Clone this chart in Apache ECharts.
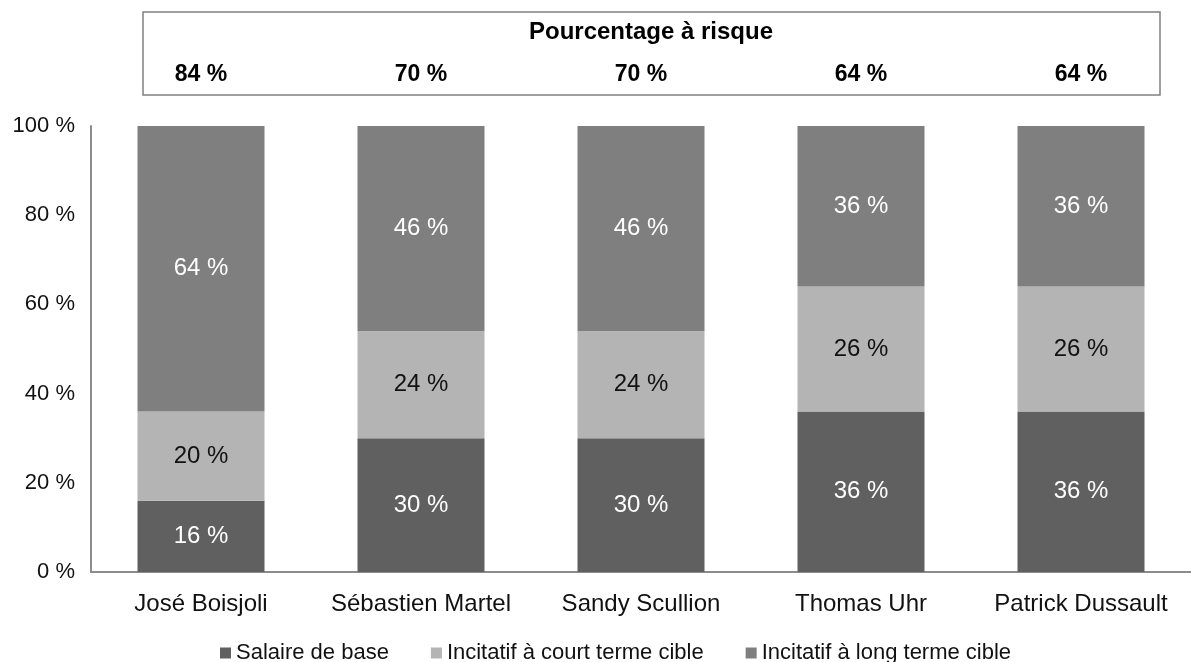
<!DOCTYPE html>
<html>
<head>
<meta charset="utf-8">
<script src="https://cdn.jsdelivr.net/npm/echarts@6/dist/echarts.min.js"></script>
<style>
  html, body { margin: 0; padding: 0; background: #fff; }
  #chart { width: 1191px; height: 662px; }
</style>
</head>
<body>
<div id="chart"></div>
<script>
  // données
  var names = ['José Boisjoli', 'Sébastien Martel', 'Sandy Scullion', 'Thomas Uhr', 'Patrick Dussault'];
  var riskPct = [84, 70, 70, 64, 64];            // Pourcentage à risque
  var baseSalary = [16, 30, 30, 36, 36];          // Salaire de base
  var shortTerm = [20, 24, 24, 28, 28];           // hauteur des barres (incitatif court terme)
  var shortTermPrinted = [20, 24, 24, 26, 26];    // valeurs affichées sur le graphique
  var longTerm = [64, 46, 46, 36, 36];            // Incitatif à long terme
  var yTicks = [0, 20, 40, 60, 80, 100];

  var FONT = 'Liberation Sans, Arial, sans-serif';
  var chart = echarts.init(document.getElementById('chart'));

  function segLabel(color, arr) {
    return {
      show: true,
      position: 'inside',
      color: color,
      fontFamily: FONT,
      fontSize: 24,
      formatter: function (p) {
        return (arr ? arr[p.dataIndex] : p.value) + ' %';
      }
    };
  }

  chart.setOption({
    animation: false,
    textStyle: { fontFamily: FONT },
    grid: { left: 91, right: -15, top: 126, bottom: 90, containLabel: false },
    legend: {
      left: 215,
      top: 637,
      icon: 'rect',
      itemWidth: 11,
      itemHeight: 11,
      itemGap: 42,
      textStyle: { fontSize: 22, color: '#111', fontFamily: FONT },
      data: ['Salaire de base', 'Incitatif à court terme cible', 'Incitatif à long terme cible']
    },
    xAxis: [
      {
        type: 'category',
        data: names,
        axisLine: { lineStyle: { color: '#8c8c8c', width: 2 } },
        axisTick: { show: false },
        axisLabel: { fontSize: 24, color: '#111', margin: 20, interval: 0, fontFamily: FONT }
      },
      {
        type: 'category',
        position: 'top',
        data: riskPct.map(function (v) { return v + ' %'; }),
        axisLine: { show: false },
        axisTick: { show: false },
        axisLabel: { fontSize: 23, fontWeight: 'bold', color: '#000', margin: 40, interval: 0, fontFamily: FONT }
      }
    ],
    yAxis: {
      type: 'value',
      min: yTicks[0],
      max: yTicks[yTicks.length - 1],
      interval: 20,
      axisLine: { show: true, lineStyle: { color: '#8c8c8c', width: 2 } },
      axisTick: { show: false },
      splitLine: { show: false },
      axisLabel: { fontSize: 22, color: '#111', margin: 16, formatter: '{value} %', fontFamily: FONT }
    },
    graphic: [
      {
        type: 'rect',
        shape: { x: 143, y: 12, width: 1017, height: 83 },
        style: { fill: 'none', stroke: '#808080', lineWidth: 1.5 }
      },
      {
        type: 'text',
        x: 651,
        y: 32,
        style: {
          text: 'Pourcentage à risque',
          fontSize: 24,
          fontWeight: 'bold',
          fontFamily: FONT,
          fill: '#000',
          textAlign: 'center',
          textVerticalAlign: 'middle'
        }
      }
    ],
    series: [
      {
        name: 'Salaire de base',
        type: 'bar',
        stack: 'total',
        barWidth: 127,
        itemStyle: { color: '#606060' },
        label: segLabel('#fff'),
        data: baseSalary
      },
      {
        name: 'Incitatif à court terme cible',
        type: 'bar',
        stack: 'total',
        barWidth: 127,
        itemStyle: { color: '#b4b4b4' },
        label: segLabel('#111', shortTermPrinted),
        data: shortTerm
      },
      {
        name: 'Incitatif à long terme cible',
        type: 'bar',
        stack: 'total',
        barWidth: 127,
        itemStyle: { color: '#7f7f7f' },
        label: segLabel('#fff'),
        data: longTerm
      }
    ]
  });
</script>
</body>
</html>
